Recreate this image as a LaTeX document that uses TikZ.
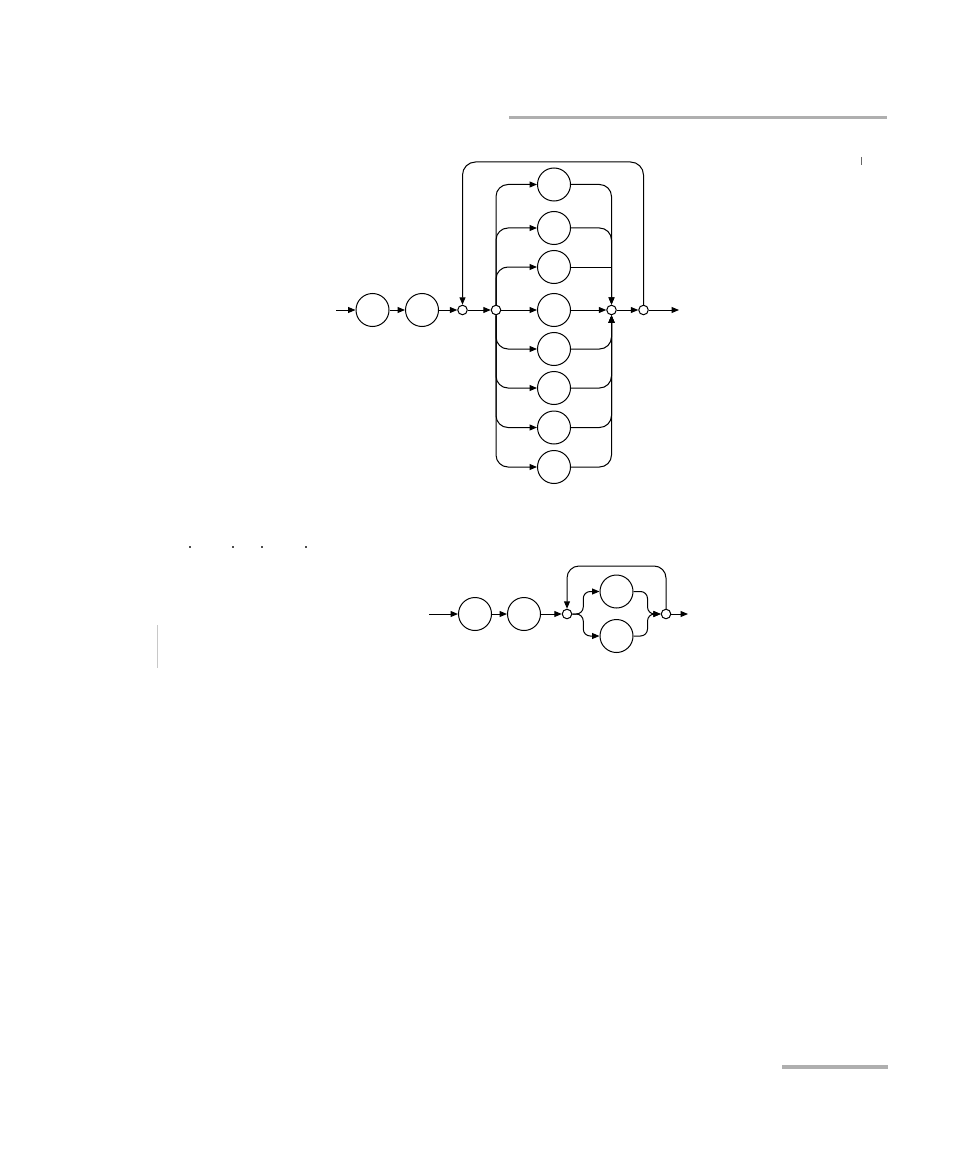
\documentclass[tikz,border=0pt]{standalone}
\usetikzlibrary{arrows.meta}
\definecolor{rulegray}{RGB}{175,175,175}
\definecolor{faintgray}{RGB}{200,200,200}
\tikzset{
  elem/.style={circle, draw, minimum size=33pt, inner sep=0pt, line width=1pt},
  junc/.style={circle, draw, minimum size=9.5pt, inner sep=0pt, line width=1pt},
  conn/.style={line width=1pt},
  arr/.style={conn, -{Triangle[length=7.5pt,width=6pt]}},
  rulebar/.style={draw=rulegray},
  speck/.style={fill=black!70, draw=none},
}
\begin{document}
\begin{tikzpicture}[x=1pt,y=-1pt]
\useasboundingbox (0,0) rectangle (954,1158);
% page rules and marks
\draw[rulebar, line width=3pt] (509,117.5) -- (887,117.5);
\draw[rulebar, line width=4pt] (782,1067) -- (888,1067);
\draw[faintgray, line width=1pt] (157,625) -- (157,668);
\draw[black!60, line width=0.8pt] (861,157) -- (861,165);
\foreach \x in {190,233,262,306} \fill[speck] (\x-0.8,546.2) rectangle (\x+0.8,547.8);

% ---------- top diagram ----------
\coordinate (in1) at (336,310);
\coordinate (out1) at (679,310);
\coordinate (loop1) at (550,162);
\node[elem] (a1) at (372.5,310) {};
\node[elem] (a2) at (422,310) {};
\node[junc] (j1) at (462.5,310) {};
\node[junc] (j2) at (496,310) {};
\node[elem] (c1) at (554,184.5) {};
\node[elem] (c2) at (554,228) {};
\node[elem] (c3) at (554,267) {};
\node[elem] (c4) at (554,310) {};
\node[elem] (c5) at (554,349) {};
\node[elem] (c6) at (554,388) {};
\node[elem] (c7) at (554,427.5) {};
\node[elem] (c8) at (554,467) {};
\node[junc] (j3) at (611.5,310) {};
\node[junc] (j4) at (643.5,310) {};

\draw[arr] (in1) -- (a1);
\draw[arr] (a1) -- (a2);
\draw[arr] (a2) -- (j1);
\draw[arr] (j1) -- (j2);
\draw[arr] (j2) -- (c4);
\draw[arr] (c4) -- (j3);
\draw[arr] (j3) -- (j4);
\draw[arr] (j4) -- (out1);
\draw[arr, rounded corners=13pt] (j4.north) |- (loop1) -| (j1.north);
\foreach \c in {c1,c2,c3} \draw[arr, rounded corners=12pt] (j2.north) |- (\c.west);
\foreach \c in {c5,c6,c7,c8} \draw[arr, rounded corners=12pt] (j2.south) |- (\c.west);
\foreach \c in {c1,c2} \draw[arr, rounded corners=12pt] (\c.east) -| (j3.north);
\draw[conn] (c3.east) -- (c3.east -| j3.north);
\foreach \c in {c5,c6,c7,c8} \draw[arr, rounded corners=12pt] (\c.east) -| (j3.south);

% ---------- bottom diagram ----------
\coordinate (in2) at (429,614);
\coordinate (out2) at (688,614);
\coordinate (loop2) at (616,566);
\node[elem] (b1) at (475,614) {};
\node[elem] (b2) at (524,614) {};
\node[junc] (k1) at (567,614) {};
\node[elem] (u) at (616.5,591.5) {};
\node[elem] (l) at (616.5,636) {};
\node[junc] (k2) at (666,614) {};

\draw[arr] (in2) -- (b1);
\draw[arr] (b1) -- (b2);
\draw[arr] (b2) -- (k1);
\draw[arr, rounded corners=7pt] (k1.east) -- ++(11,0) |- (u.west);
\draw[arr, rounded corners=7pt] (k1.east) -- ++(11,0) |- (l.west);
\draw[arr, rounded corners=7pt] (u.east) -- ++(14,0) |- (k2.west);
\draw[arr, rounded corners=7pt] (l.east) -- ++(14,0) |- (k2.west);
\draw[arr] (k2) -- (out2);
\draw[arr, rounded corners=12pt] (k2.north) |- (loop2) -| (k1.north);
\end{tikzpicture}
\end{document}
